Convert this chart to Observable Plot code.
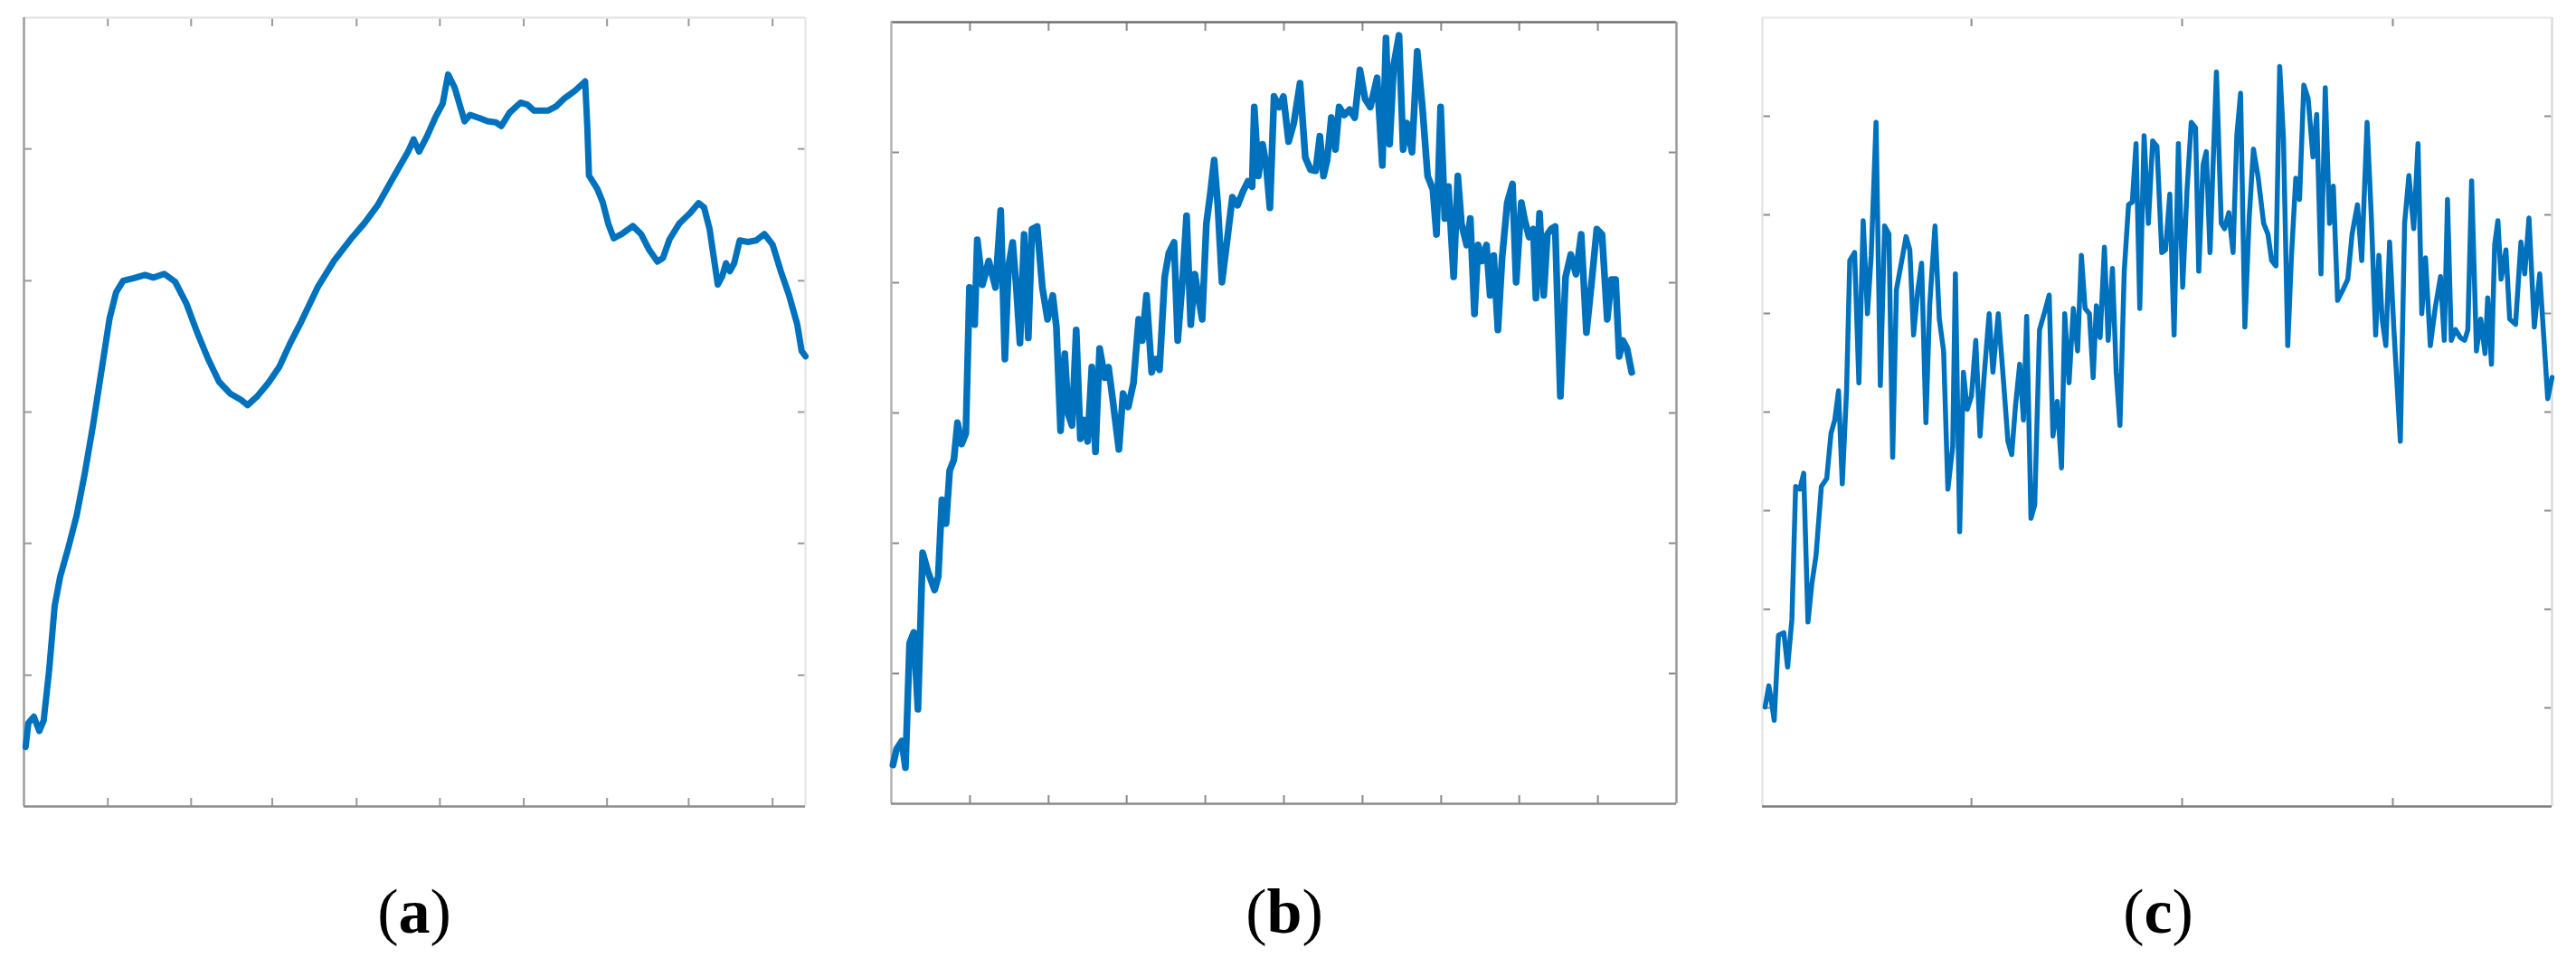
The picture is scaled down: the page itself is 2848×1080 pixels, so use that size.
<!DOCTYPE html>
<html>
<head>
<meta charset="utf-8">
<script src="https://cdn.jsdelivr.net/npm/d3@7"></script>
<script src="https://cdn.jsdelivr.net/npm/@observablehq/plot@0.6"></script>
<style>
  html, body { margin: 0; padding: 0; background: #ffffff; }
  #root { position: relative; width: 2848px; height: 1080px; overflow: hidden; background: #fff; }
  .panel { position: absolute; }
  .cap { position: absolute; top: 973px; font-family: "Liberation Serif", "DejaVu Serif", serif; font-size: 70px; line-height: 70px; color: #000; transform: translateX(-50%); white-space: nowrap; }
  .cap b { font-weight: bold; }
</style>
</head>
<body>
<div id="root"></div>
<script>
// ---------- Panel (a): smooth curve (arbitrary units) ----------
const aT = [3,8,18,28,36,46,56,66,81,96,111,126,141,156,168,181,201,221,236,256,276,296,316,336,356,376,396,408,426,446,466,486,506,536,566,596,621,646,676,701,711,721,736,751,764,774,786,796,804,814,831,846,861,871,886,906,918,931,956,971,986,1006,1024,1028,1031,1046,1056,1066,1076,1091,1111,1126,1141,1156,1166,1178,1196,1216,1231,1241,1251,1266,1274,1281,1288,1296,1306,1321,1336,1351,1366,1381,1396,1411,1419,1426];
const aV = [112,157,169,142,162,257,377,432,487,547,627,717,817,917,967,989,994,1000,995,1002,987,947,892,842,799,777,765,755,772,797,827,872,912,977,1027,1067,1097,1132,1187,1232,1255,1232,1262,1297,1322,1377,1352,1317,1289,1301,1295,1289,1287,1280,1305,1324,1321,1309,1309,1317,1332,1347,1364,1277,1187,1162,1137,1097,1069,1077,1092,1077,1047,1025,1032,1067,1097,1117,1135,1127,1087,982,997,1022,1007,1022,1065,1062,1065,1077,1057,1007,962,907,857,847];
const aXTicks = [153,305,453,607,759,912,1064,1213,1366];
const aYTicks = [247,495,742,989,1237];

// ---------- Panel (b): noisy curve ----------
const bT = [3,10,20,27,35,43,51,60,70,83,90,97,105,112,120,127,135,143,150,160,165,175,187,200,210,218,225,233,240,247,255,263,270,280,290,300,310,317,325,333,340,347,355,363,370,377,385,392,400,410,417,425,437,445,455,465,475,482,490,500,507,515,525,533,543,550,560,567,575,583,590,597,605,613,620,627,635,645,655,665,675,685,693,697,705,713,720,727,735,745,753,763,773,785,795,805,815,823,830,837,845,853,860,870,880,890,900,910,920,933,943,950,957,965,975,983,990,1000,1010,1020,1030,1040,1047,1055,1063,1070,1080,1088,1095,1105,1112,1120,1127,1135,1143,1150,1157,1165,1173,1183,1193,1200,1210,1217,1225,1233,1238,1245,1253,1260,1267,1275,1285,1295,1305,1315,1325,1335,1345,1355,1365,1375,1383,1391,1398,1405,1413,1422];
const bV = [73,103,118,68,303,323,178,473,438,403,428,573,528,628,648,718,678,698,973,903,1063,978,1023,973,1118,838,1013,1058,973,868,1073,878,1083,1088,973,913,958,898,703,848,733,713,893,688,723,683,823,663,858,803,823,763,668,773,748,793,913,873,958,813,838,818,993,1038,1058,873,998,1108,903,998,953,913,1093,1153,1213,1128,983,1063,1143,1128,1153,1173,1163,1313,1183,1243,1203,1123,1333,1313,1333,1248,1283,1358,1218,1195,1193,1258,1183,1213,1293,1233,1313,1298,1308,1293,1383,1328,1313,1368,1203,1443,1243,1393,1448,1233,1283,1228,1418,1313,1183,1158,1073,1313,1103,1163,993,1183,1093,1053,1103,923,1053,1023,1053,958,1033,893,1028,1133,1168,983,1133,1098,1068,1083,953,1113,958,1073,1083,1088,768,993,1035,998,1073,888,983,1083,1073,913,988,988,843,873,858,813];
const bXTicks = [151,302,452,603,754,905,1056,1206,1357];
const bYTicks = [245.5,491,736.5,982,1227.5];

// ---------- Panel (c): very noisy curve ----------
const cT = [5,12,17,22,30,40,47,55,62,70,77,85,92,100,110,120,128,135,142,149,157,163,172,180,188,196,203,212,220,228,236,243,250,260,268,275,282,290,297,305,312,322,330,338,346,355,360,368,375,382,390,398,406,413,423,430,440,450,458,465,472,480,487,493,501,508,517,527,535,542,550,558,564,572,580,588,595,602,610,617,623,630,638,645,653,660,667,675,683,690,697,704,712,720,728,736,745,752,760,768,776,784,792,800,808,814,822,828,835,840,847,856,862,870,878,885,892,900,908,916,925,935,943,950,958,965,972,980,987,995,1002,1010,1018,1027,1034,1042,1050,1058,1065,1073,1083,1092,1100,1110,1118,1128,1136,1144,1150,1156,1163,1170,1178,1190,1198,1206,1215,1223,1230,1237,1246,1255,1265,1272,1278,1285,1293,1302,1310,1316,1323,1332,1340,1348,1353,1360,1366,1372,1378,1387,1394,1405,1415,1422,1430,1440,1450,1458,1465,1473];
const cV = [187,227,197,162,322,327,262,352,602,597,627,347,417,472,602,617,702,727,782,607,782,1027,1042,797,1102,927,1037,1287,792,1092,1077,657,972,1027,1072,1047,887,972,1022,722,942,1092,917,857,597,677,1002,517,817,747,772,877,697,802,927,817,927,797,687,662,752,832,727,922,542,567,897,932,962,697,762,637,927,797,937,857,1037,937,927,807,942,882,1052,877,1012,817,717,1007,1132,1137,1247,937,1262,1097,1252,1242,1042,1047,1152,887,1247,977,1157,1287,1277,1007,1207,1232,1042,1187,1382,1097,1087,1117,1042,1262,1342,902,1107,1237,1182,1097,1077,1027,1017,1392,1257,867,1037,1182,1142,1357,1332,1222,1302,1002,1352,1097,1167,952,972,992,1077,1132,1027,1287,1107,887,1037,917,867,1062,897,687,1097,1187,1087,1247,927,1032,867,937,997,877,1142,877,897,882,877,897,1177,857,917,852,957,832,1057,1102,992,1047,917,907,1062,1002,1107,902,1002,877,767,807];
const cXTicks = [390,783,1176];
const cYTicks = [185.5,371,556.5,742,927.5,1113,1298.5];

const panels = [
  {t: aT, v: aV, W: 1426, H: 1484, xTicks: aXTicks, yTicks: aYTicks,
   box: {left: 26, top: 19, right: 890, bottom: 891}, lw: 7,
   edge: {bottom: "#8c8c8c", left: "#9c9c9c", top: "#e6e6e6", right: "#e8e8e8"}, tick: "#9a9a9a",
   cap: "a", cx: 458},
  {t: bT, v: bV, W: 1508, H: 1473, xTicks: bXTicks, yTicks: bYTicks,
   box: {left: 985, top: 24, right: 1853, bottom: 888}, lw: 7.5,
   edge: {bottom: "#8a8a8a", left: "#b4b4b4", top: "#707070", right: "#9a9a9a"}, tick: "#8a8a8a",
   cap: "b", cx: 1420},
  {t: cT, v: cV, W: 1473, H: 1484, xTicks: cXTicks, yTicks: cYTicks,
   box: {left: 1948, top: 19, right: 2821, bottom: 891}, lw: 5.5,
   edge: {bottom: "#7c7c7c", left: "#e6e6e6", top: "#ececec", right: "#dcdcdc"}, tick: "#8c8c8c",
   cap: "c", cx: 2386}
];

const root = document.getElementById("root");
const m = 14;
for (const p of panels) {
  const fw = p.box.right - p.box.left, fh = p.box.bottom - p.box.top;
  const rows = p.t.map((t, i) => ({t, v: p.v[i]}));
  const tickOpts = {tickSize: -9, tickFormat: () => "", label: null, stroke: p.tick, strokeWidth: 2};
  const chart = Plot.plot({
    width: fw + 2 * m,
    height: fh + 2 * m,
    marginLeft: m, marginRight: m, marginTop: m, marginBottom: m,
    x: {domain: [0, p.W]},
    y: {domain: [0, p.H]},
    style: {background: "transparent", overflow: "visible"},
    marks: [
      Plot.axisX(p.xTicks, {anchor: "bottom", ...tickOpts}),
      Plot.axisX(p.xTicks, {anchor: "top", ...tickOpts}),
      Plot.axisY(p.yTicks, {anchor: "left", ...tickOpts}),
      Plot.axisY(p.yTicks, {anchor: "right", ...tickOpts}),
      Plot.ruleY([p.H], {stroke: p.edge.top, strokeWidth: 2.5}),
      Plot.ruleX([p.W], {stroke: p.edge.right, strokeWidth: 2.5}),
      Plot.ruleX([0], {stroke: p.edge.left, strokeWidth: 2.5}),
      Plot.ruleY([0], {stroke: p.edge.bottom, strokeWidth: 2.5}),
      Plot.line(rows, {x: "t", y: "v", stroke: "#0072BD", strokeWidth: p.lw, strokeLinejoin: "round", strokeLinecap: "round"})
    ]
  });
  chart.classList.add("panel");
  chart.style.left = (p.box.left - m) + "px";
  chart.style.top = (p.box.top - m) + "px";
  root.appendChild(chart);

  const cap = document.createElement("div");
  cap.className = "cap";
  cap.style.left = p.cx + "px";
  cap.innerHTML = "(<b>" + p.cap + "</b>)";
  root.appendChild(cap);
}
</script>
</body>
</html>
